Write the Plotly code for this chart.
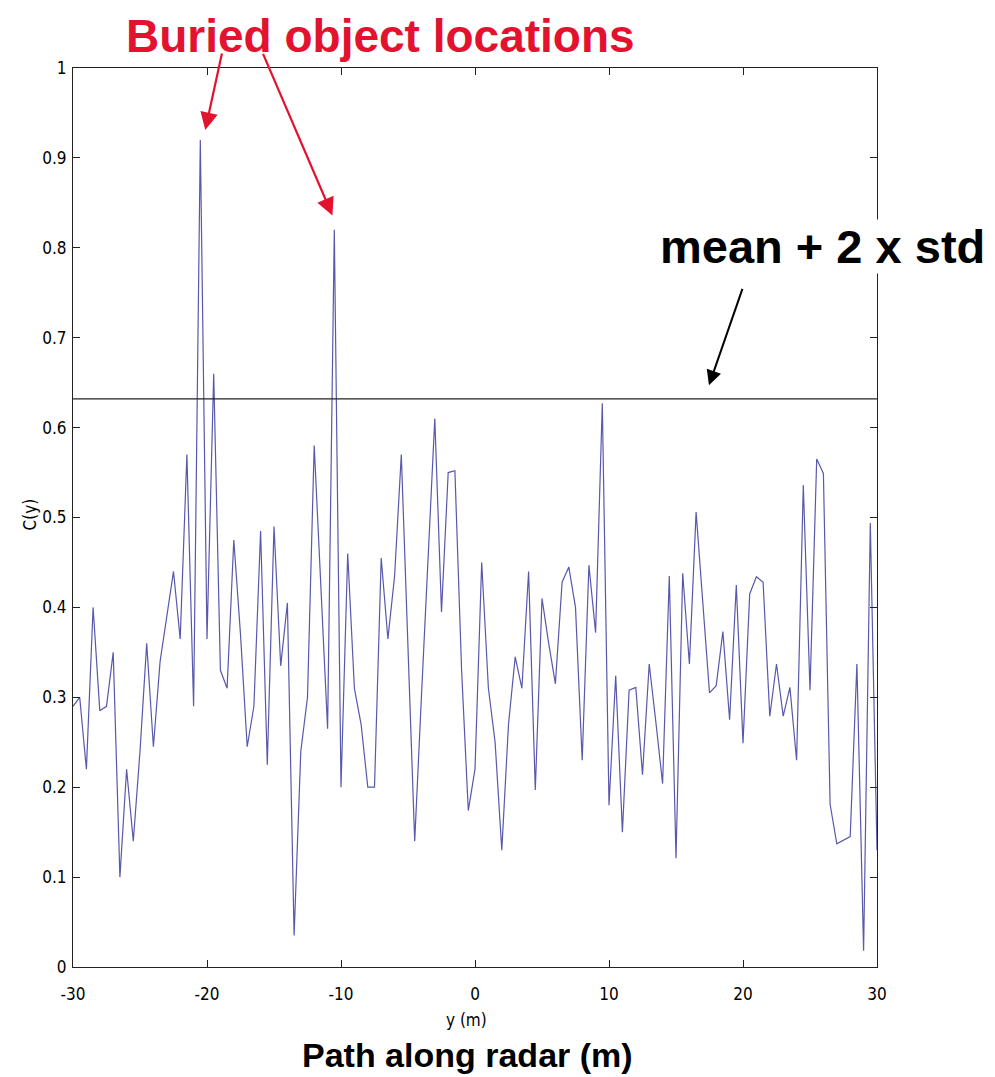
import numpy as np
import plotly.graph_objects as go

# Sample positions along the radar path (m), 0.5 m spacing
y_pos = np.linspace(-30, 30, 121)

# Correlation values C(y)
c_vals = [
    0.29, 0.30, 0.22, 0.40, 0.285, 0.29, 0.35, 0.10, 0.22, 0.14,
    0.24, 0.36, 0.245, 0.34, 0.39, 0.44, 0.365, 0.57, 0.29, 0.92,
    0.365, 0.66, 0.33, 0.31, 0.475, 0.37, 0.245, 0.29, 0.485, 0.225,
    0.49, 0.335, 0.405, 0.035, 0.24, 0.30, 0.58, 0.42, 0.265, 0.82,
    0.20,
    0.46, 0.31, 0.27, 0.20, 0.20, 0.455, 0.365, 0.435, 0.57, 0.36,
    0.14, 0.30, 0.45, 0.61, 0.395, 0.55, 0.552, 0.33, 0.174, 0.22,
    0.45, 0.31, 0.25, 0.13, 0.27, 0.345, 0.31, 0.44, 0.197, 0.41,
    0.36, 0.315, 0.428, 0.445, 0.40, 0.23, 0.447, 0.372, 0.627, 0.18,
    0.324, 0.15, 0.308, 0.311, 0.214, 0.337, 0.272, 0.204, 0.435, 0.121,
    0.438, 0.337, 0.506, 0.409, 0.305, 0.313, 0.373, 0.275, 0.425, 0.249,
    0.415, 0.434, 0.428, 0.279, 0.337, 0.279, 0.311, 0.23, 0.536, 0.308,
    0.565, 0.549, 0.181, 0.137, 0.141, 0.145, 0.337, 0.018, 0.494, 0.13,
]

threshold = 0.632  # mean + 2 x std
x_ticks = [-30, -20, -10, 0, 10, 20, 30]
x_ticklabels = ["-30", "-20", "-10", "0", "10", "20", "30"]
y_ticks = [0, 0.1, 0.2, 0.3, 0.4, 0.5, 0.6, 0.7, 0.8, 0.9, 1]
y_ticklabels = ["0", "0.1", "0.2", "0.3", "0.4", "0.5", "0.6", "0.7", "0.8", "0.9", "1"]
peak_locations = [-20.13, -10.64]
peak_heads = [0.931, 0.836]

NARROW = "Liberation Sans Narrow, Arial Narrow, DejaVu Sans Condensed, Arial, Liberation Sans"
ARIAL = "Arial, Liberation Sans, sans-serif"
RED = "#e3122f"

fig = go.Figure()
fig.add_trace(go.Scatter(x=y_pos, y=c_vals, mode="lines",
                         line=dict(color="#5858ac", width=1.2),
                         showlegend=False, hoverinfo="skip"))
fig.add_trace(go.Scatter(x=[x_ticks[0], x_ticks[-1]], y=[threshold, threshold], mode="lines",
                         line=dict(color="#222222", width=1.3),
                         showlegend=False, hoverinfo="skip"))

axis_common = dict(showline=True, linecolor="#222222", linewidth=1, mirror="ticks",
                   ticks="inside", ticklen=7, tickcolor="#222222", showgrid=False,
                   zeroline=False, tickfont=dict(family=NARROW, size=17, color="black"))

fig.update_xaxes(range=[-30, 30], tickvals=x_ticks, ticktext=x_ticklabels,
                 ticklabelstandoff=12, **axis_common)
fig.update_yaxes(range=[0, 1], tickvals=y_ticks, ticktext=y_ticklabels,
                 ticklabelstandoff=2, **axis_common)

annotations = [
    dict(text="<b>Buried object locations</b>", xref="paper", yref="paper",
         x=0.382, y=1.036, xanchor="center", yanchor="middle", showarrow=False,
         font=dict(family=ARIAL, size=46, color=RED), borderpad=0),
    dict(text="<b>mean + 2 x std</b>", xref="paper", yref="paper",
         x=0.9316, y=0.802, xanchor="center", yanchor="middle", showarrow=False,
         font=dict(family=ARIAL, size=47, color="black"), bgcolor="white", borderpad=0),
    dict(text="<b>Path along radar (m)</b>", xref="paper", yref="paper",
         x=0.491, y=-0.098, xanchor="center", yanchor="middle", showarrow=False,
         font=dict(family=ARIAL, size=34, color="black")),
    dict(text="y (m)", xref="paper", yref="paper",
         x=0.489, y=-0.059, xanchor="center", yanchor="middle", showarrow=False,
         font=dict(family=NARROW, size=17, color="black")),
    dict(text="C(y)", xref="paper", yref="paper", textangle=-90,
         x=-0.054, y=0.503, xanchor="center", yanchor="middle", showarrow=False,
         font=dict(family=NARROW, size=17, color="black")),
    # arrows to buried objects
    dict(text="", x=peak_locations[0], y=peak_heads[0], xref="x", yref="y",
         ax=17, ay=-78, showarrow=True, arrowhead=2, arrowsize=1.6, arrowwidth=2.2,
         arrowcolor=RED),
    dict(text="", x=peak_locations[1], y=peak_heads[1], xref="x", yref="y",
         ax=-70, ay=-163, showarrow=True, arrowhead=2, arrowsize=1.6, arrowwidth=2.2,
         arrowcolor=RED),
    # arrow to threshold line
    dict(text="", x=17.46, y=0.647, xref="x", yref="y",
         ax=34, ay=-98, showarrow=True, arrowhead=2, arrowsize=1.5, arrowwidth=2,
         arrowcolor="black"),
]

fig.update_layout(width=987, height=1069,
                  margin=dict(l=65, r=118, t=60, b=110, pad=0),
                  paper_bgcolor="white", plot_bgcolor="white",
                  annotations=annotations, showlegend=False)

fig.write_html("out.html")
